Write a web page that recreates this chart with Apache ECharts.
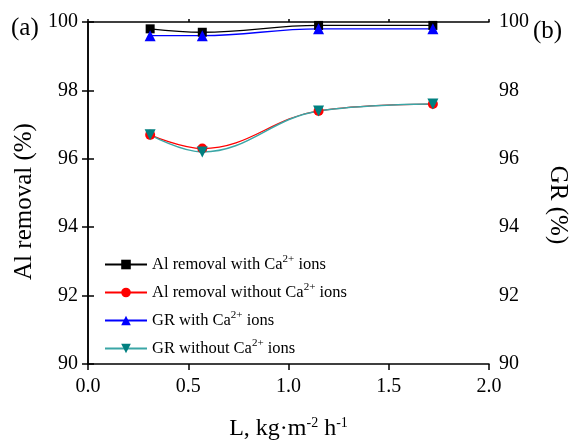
<!DOCTYPE html>
<html>
<head>
<meta charset="utf-8">
<script src="https://cdn.jsdelivr.net/npm/echarts@6/dist/echarts.min.js"></script>
<style>
html,body{margin:0;padding:0;background:#fff;}
#chart{width:569px;height:443px;}
</style>
</head>
<body>
<div id="chart"></div>
<script>
// 进料流量 L
const flux = [0.31, 0.57, 1.15, 1.72]
// Al去除率 / GR
const alWithCa = [99.8, 99.7, 99.9, 99.9]
const alWithoutCa = [96.7, 96.3, 97.4, 97.6]
const grWithCa = [99.6, 99.6, 99.8, 99.8]
const grWithoutCa = [96.7, 96.2, 97.4, 97.6]
const seriesNames = ['Al removal with Ca', 'Al removal without Ca', 'GR with Ca', 'GR without Ca']

const font = 'Liberation Serif'
const pairs = arr => flux.map((x, i) => [x, arr[i]])

const chart = echarts.init(document.getElementById('chart'))
const axisLine = {show:true, lineStyle:{color:'#000', width:1.5}}
const tick = (len)=>({inside:false, length:len, lineStyle:{color:'#000', width:1.5}})
const option = {
    animation:false,
    textStyle:{fontFamily:font},
    grid:{left:88, right:80, top:22, bottom:79, outerBoundsMode:'none', containLabel:false},
    legend:{
        orient:'vertical',
        left:99,
        top:249,
        itemWidth:42,
        itemHeight:12,
        itemGap:9,
        data:seriesNames,
        formatter:(name)=>{
            return name + '{sup|2+} ions'
        },
        textStyle:{
            fontFamily:font,
            fontSize:16.5,
            color:'#000',
            rich:{
                sup:{fontSize:11, fontFamily:font, verticalAlign:'top', padding:[0,0,10,0], color:'#000'}
            }
        }
    },
    xAxis:[
        {
            type:'value', min:0, max:2, interval:0.5, position:'bottom',
            axisLine:axisLine, splitLine:{show:false},
            axisTick:tick(6),
            axisLabel:{fontFamily:font, fontSize:20, color:'#000', margin:13, formatter:v=>v.toFixed(1)},
            name:'L, kg·m{sup|-2} h{sup|-1}',
            nameLocation:'middle',
            nameGap:52,
            nameTextStyle:{
                fontFamily:font, fontSize:24, color:'#000',
                rich:{sup:{fontSize:14, fontFamily:font, verticalAlign:'top', padding:[0,0,12,0], color:'#000'}}
            }
        },
        {
            type:'value', min:0, max:2, interval:0.5, position:'top',
            axisLine:axisLine, splitLine:{show:false},
            axisTick:tick(3),
            axisLabel:{show:false}
        }
    ],
    yAxis:[
        {
            type:'value', min:90, max:100, interval:2, position:'left',
            axisLine:axisLine, splitLine:{show:false},
            axisTick:tick(6),
            axisLabel:{fontFamily:font, fontSize:20, color:'#000', margin:10},
            name:'Al removal (%)',
            nameLocation:'middle',
            nameGap:48,
            nameTextStyle:{fontFamily:font, fontSize:25, color:'#000', padding:[0,17,0,0]}
        },
        {
            type:'value', min:90, max:100, interval:2, position:'right',
            axisLine:axisLine, splitLine:{show:false},
            axisTick:tick(6),
            axisLabel:{fontFamily:font, fontSize:20, color:'#000', margin:10},
            name:'GR (%)',
            nameLocation:'middle',
            nameGap:56,
            nameRotate:-90,
            nameTextStyle:{fontFamily:font, fontSize:25, color:'#000', padding:[0,0,0,24]}
        }
    ],
    series:[
        {
            name:seriesNames[0], type:'line', smooth:0.4, yAxisIndex:0,
            symbol:'rect', symbolSize:9,
            itemStyle:{color:'#000'}, lineStyle:{color:'#000', width:1.3},
            data:pairs(alWithCa)
        },
        {
            name:seriesNames[1], type:'line', smooth:0.4, yAxisIndex:0,
            symbol:'circle', symbolSize:10,
            itemStyle:{color:'#ff0000'}, lineStyle:{color:'#ff0000', width:1.3},
            data:pairs(alWithoutCa)
        },
        {
            name:seriesNames[2], type:'line', smooth:0.4, yAxisIndex:1,
            symbol:'triangle', symbolSize:11,
            itemStyle:{color:'#0000ff'}, lineStyle:{color:'#0000ff', width:1.3},
            data:pairs(grWithCa)
        },
        {
            name:seriesNames[3], type:'line', smooth:0.4, yAxisIndex:1,
            symbol:'triangle', symbolRotate:180, symbolSize:11,
            itemStyle:{color:'#008080'}, lineStyle:{color:'#3aa6a6', width:1.5},
            data:pairs(grWithoutCa)
        }
    ],
    graphic:[
        {type:'text', left:11, top:16, style:{text:'(a)', font:'25px "Liberation Serif"', fill:'#000'}},
        {type:'text', left:533, top:19, style:{text:'(b)', font:'25px "Liberation Serif"', fill:'#000'}}
    ]
}
chart.setOption(option)
</script>
</body>
</html>
